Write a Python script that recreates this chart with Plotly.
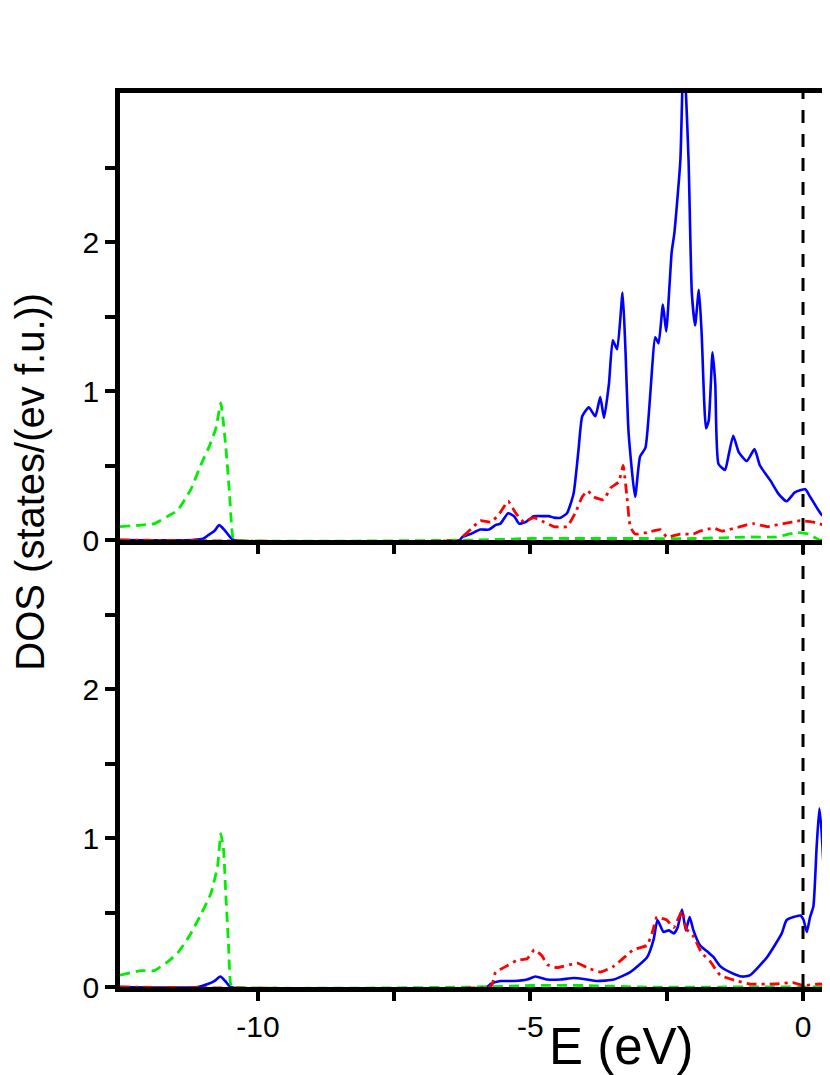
import plotly.graph_objects as go

# ---------------- data ----------------
FERMI = 0.0

# upper panel (spin up)
e_tot_up = [-12.53, -11.2, -11.0, -10.92, -10.8, -10.71, -10.62, -10.51, -10.45, -6.3, -6.25, -6.1,
            -5.92, -5.76, -5.64, -5.55, -5.41, -5.30, -5.21, -5.09, -4.94, -4.75, -4.66, -4.57,
            -4.45, -4.33, -4.21, -4.12, -4.05, -3.93, -3.81, -3.72, -3.65, -3.56, -3.49, -3.41,
            -3.31, -3.26, -3.20, -3.08, -2.99, -2.89, -2.71, -2.65, -2.57, -2.51, -2.41, -2.36,
            -2.25, -2.19, -2.10, -2.04, -1.98, -1.91, -1.86, -1.78, -1.73, -1.66, -1.61, -1.55,
            -1.43, -1.37, -1.28, -1.18, -1.03, -0.89, -0.79, -0.60, -0.45, -0.30, -0.15, 0.04,
            0.13, 0.34, 0.50, 0.60]
dos_tot_up = [0, 0, 0.01, 0.03, 0.06, 0.10, 0.07, 0.02, 0, 0, 0.02, 0.04,
              0.07, 0.07, 0.10, 0.11, 0.18, 0.16, 0.11, 0.12, 0.16, 0.16, 0.16, 0.15,
              0.15, 0.18, 0.31, 0.60, 0.83, 0.89, 0.83, 0.96, 0.82, 1.05, 1.34, 1.28,
              1.66, 1.30, 0.72, 0.29, 0.56, 0.62, 1.36, 1.32, 1.58, 1.40, 1.93, 2.06,
              2.55, 3.30, 2.55, 1.66, 1.44, 1.68, 1.39, 0.75, 0.80, 1.26, 1.05, 0.51,
              0.47, 0.56, 0.70, 0.59, 0.53, 0.61, 0.50, 0.40, 0.31, 0.26, 0.32, 0.34,
              0.29, 0.17, 0.13, 0.12]

e_s_up = [-12.53, -12.14, -11.9, -11.65, -11.47, -11.23, -11.04, -10.89, -10.77, -10.68, -10.59,
          -10.52, -10.46, -10.40, -6.0, -5.0, -4.0, -3.0, -2.0, -1.0, -0.5, -0.12, 0.1, 0.3, 0.6]
dos_s_up = [0.09, 0.10, 0.11, 0.16, 0.20, 0.34, 0.51, 0.63, 0.75, 0.92, 0.63,
            0.31, 0.02, 0, 0, 0.01, 0.01, 0.01, 0.01, 0.02, 0.02, 0.05, 0.04, 0.0, 0.0]

e_p_up = [-12.53, -6.3, -6.25, -6.07, -5.92, -5.73, -5.58, -5.41, -5.27, -5.12, -4.94, -4.75,
          -4.57, -4.33, -4.18, -4.05, -3.95, -3.84, -3.66, -3.53, -3.38, -3.30, -3.23, -3.17,
          -3.08, -2.86, -2.62, -2.50, -2.25, -2.01, -1.89, -1.64, -1.49, -1.15, -0.91, -0.66,
          -0.36, -0.05, 0.19, 0.49, 0.60]
dos_p_up = [0, 0, 0.02, 0.08, 0.13, 0.12, 0.17, 0.26, 0.18, 0.12, 0.15, 0.12,
            0.09, 0.09, 0.18, 0.29, 0.33, 0.29, 0.27, 0.35, 0.39, 0.50, 0.29, 0.09,
            0.04, 0.05, 0.07, 0.02, 0.04, 0.04, 0.06, 0.08, 0.06, 0.09, 0.11, 0.09,
            0.11, 0.13, 0.12, 0.09, 0.09]

# lower panel (spin down)
e_tot_dn = [-12.53, -11.1, -10.92, -10.80, -10.69, -10.60, -10.50, -5.8, -5.73, -5.55, -5.31,
            -5.06, -4.91, -4.69, -4.45, -4.21, -3.96, -3.78, -3.47, -3.17, -2.86, -2.74, -2.67,
            -2.56, -2.46, -2.37, -2.30, -2.22, -2.15, -2.08, -2.01, -1.89, -1.73, -1.64, -1.52,
            -1.34, -1.12, -0.97, -0.66, -0.39, -0.30, -0.05, 0.01, 0.07, 0.13, 0.19, 0.25,
            0.30, 0.34, 0.40, 0.46, 0.50, 0.60]
dos_tot_dn = [0, 0, 0.02, 0.04, 0.07, 0.04, 0, 0, 0.02, 0.04, 0.04,
              0.05, 0.07, 0.05, 0.05, 0.06, 0.05, 0.04, 0.05, 0.10, 0.20, 0.32, 0.45,
              0.37, 0.38, 0.36, 0.40, 0.52, 0.38, 0.47, 0.38, 0.28, 0.23, 0.20, 0.14,
              0.10, 0.07, 0.08, 0.20, 0.36, 0.45, 0.48, 0.45, 0.37, 0.47, 0.54, 0.94,
              1.20, 1.05, 0.72, 0.83, 0.92, 1.00]

e_s_dn = [-12.53, -12.14, -11.9, -11.65, -11.47, -11.26, -11.04, -10.86, -10.74, -10.68, -10.63,
          -10.59, -10.54, -10.50, -10.45, -6.0, -5.0, -4.0, -3.0, -1.0, 0.6]
dos_s_dn = [0.08, 0.11, 0.11, 0.17, 0.23, 0.34, 0.49, 0.63, 0.81, 1.03, 0.92,
            0.63, 0.29, 0.02, 0, 0, 0.01, 0.01, 0, 0, 0]

e_p_dn = [-12.53, -5.75, -5.70, -5.64, -5.49, -5.24, -5.06, -4.93, -4.79, -4.69, -4.51, -4.14,
          -3.96, -3.72, -3.47, -3.11, -2.86, -2.77, -2.68, -2.59, -2.50, -2.37, -2.22, -2.14,
          -2.01, -1.86, -1.70, -1.52, -1.21, -0.97, -0.5, -0.18, 0.0, 0.3, 0.6]
dos_p_dn = [0, 0, 0.02, 0.10, 0.13, 0.18, 0.19, 0.25, 0.21, 0.15, 0.13, 0.16,
            0.13, 0.10, 0.14, 0.25, 0.28, 0.36, 0.47, 0.46, 0.45, 0.40, 0.51, 0.39,
            0.34, 0.23, 0.17, 0.08, 0.04, 0.02, 0.02, 0.03, 0.01, 0.02, 0.01]

# the legend labels lie outside the visible (cropped) area of the reference,
# so the legend entries show only the start of their line samples
series_labels = ["Total", "s", "p"]
x_tickvals = [-10, -7.5, -5, -2.5, 0]
x_ticktext = ["-10", "", "-5", "", "0"]
y_tickvals = [0, 0.5, 1, 1.5, 2, 2.5]
y_ticktext = ["0", "", "1", "", "2", ""]
x_range = [-12.53, 0.495]
y_range = [0, 3]

# ---------------- styles ----------------
FONT = "Liberation Sans, Arial, sans-serif"
blue_line = dict(color="#0000ff", width=2.6, shape="spline", smoothing=0.5)
green_line = dict(color="#00ee00", width=2.8, dash="10px,6px", shape="spline", smoothing=0.4)
red_line = dict(color="#ff0000", width=2.8, dash="10px,5px,3px,5px", shape="spline", smoothing=0.4)

fig = go.Figure()

panels = [
    ("x2", "y2", (e_tot_up, dos_tot_up), (e_s_up, dos_s_up), (e_p_up, dos_p_up), True),
    ("x", "y", (e_tot_dn, dos_tot_dn), (e_s_dn, dos_s_dn), (e_p_dn, dos_p_dn), False),
]
for xa, ya, tot, s, p, show in panels:
    for (ex, dy), style, label in zip((tot, s, p), (blue_line, green_line, red_line), series_labels):
        fig.add_trace(go.Scatter(x=ex, y=dy, mode="lines", line=style, name="",
                                 hovertemplate=label + ": %{y:.2f}<extra></extra>",
                                 xaxis=xa, yaxis=ya, showlegend=show))

# Fermi level
fig.add_shape(type="line", xref="x", yref="paper", x0=FERMI, x1=FERMI, y0=0, y1=1,
              line=dict(color="black", width=3, dash="13px,11px"), layer="above")

axis_common = dict(showline=True, linecolor="black", linewidth=4.5, ticks="outside",
                   tickwidth=4, tickcolor="black", showgrid=False, zeroline=False,
                   tickfont=dict(family=FONT, size=30, color="black"))

fig.update_layout(
    width=822, height=1067,
    margin=dict(l=112, r=0, t=85, b=88, autoexpand=False),
    paper_bgcolor="white", plot_bgcolor="white",
    font=dict(family=FONT, color="black"),
    xaxis=dict(domain=[0, 1], anchor="y", range=x_range, tickvals=x_tickvals,
               ticktext=x_ticktext, ticklen=9, **axis_common),
    xaxis2=dict(domain=[0, 1], anchor="y2", range=x_range, matches="x", tickvals=x_tickvals,
                ticktext=x_ticktext, ticklen=9, showticklabels=False, mirror=True,
                **axis_common),
    yaxis=dict(domain=[0, 0.5], anchor="x", range=y_range, tickvals=y_tickvals,
               ticktext=y_ticktext, ticklen=10, **axis_common),
    yaxis2=dict(domain=[0.5, 1], anchor="x2", range=y_range, tickvals=y_tickvals,
                ticktext=y_ticktext, ticklen=10, **axis_common),
    legend=dict(x=0.9901, y=0.9894, xanchor="left", yanchor="top",
                font=dict(family=FONT, size=26, color="black"),
                bgcolor="rgba(0,0,0,0)", borderwidth=0, tracegroupgap=0),
    annotations=[
        dict(text="DOS (states/(ev f.u.))", xref="paper", yref="paper",
             x=-0.127, y=0.565, textangle=-90, showarrow=False,
             font=dict(family=FONT, size=40, color="black"),
             xanchor="center", yanchor="middle"),
        dict(text="E (eV)", xref="paper", yref="paper",
             x=0.707, y=-0.066, showarrow=False,
             font=dict(family=FONT, size=51, color="black"),
             xanchor="center", yanchor="middle"),
    ],
)

fig.write_html("out.html")
